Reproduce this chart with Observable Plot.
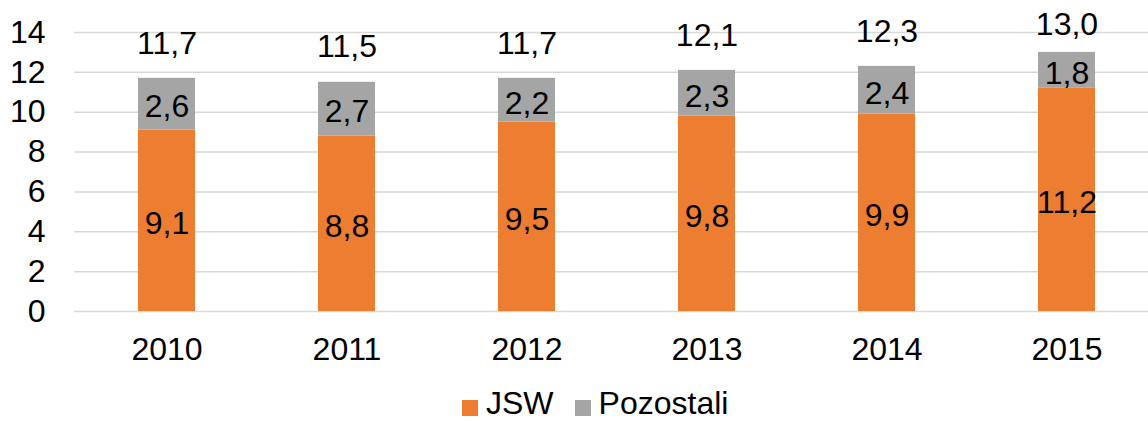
<!DOCTYPE html>
<html>
<head>
<meta charset="utf-8">
<script src="https://cdn.jsdelivr.net/npm/d3@7"></script>
<script src="https://cdn.jsdelivr.net/npm/@observablehq/plot@0.6"></script>
<style>
  body { margin: 0; background: #fff; font-family: "Liberation Sans", Arial, sans-serif; }
  #chart svg { display: block; }
  #legend { display: flex; align-items: flex-start; padding-top: 2px; padding-left: 462px; height: 34px; font-size: 32px; line-height: 32px; color: #000; }
  .item { display: flex; align-items: flex-start; margin-right: 21px; }
  .sw { width: 16px; height: 16px; margin-top: 13px; margin-right: 8px; }
</style>
</head>
<body>
<div id="chart"></div>
<div id="legend"></div>
<script>
const years = ["2010", "2011", "2012", "2013", "2014", "2015"];
const seriesNames = ["JSW", "Pozostali"];
const jsw = [9.1, 8.8, 9.5, 9.8, 9.9, 11.2];
const pozostali = [2.6, 2.7, 2.2, 2.3, 2.4, 1.8];
const totals = [11.7, 11.5, 11.7, 12.1, 12.3, 13.0];
const yTicks = [0, 2, 4, 6, 8, 10, 12, 14];
const colors = ["#ED7D31", "#A5A5A5"];

const fmt = d => d.toFixed(1).replace(".", ",");

const rows = [];
years.forEach((y, i) => {
  rows.push({year: y, series: "JSW", value: jsw[i], mid: jsw[i] / 2});
  rows.push({year: y, series: "Pozostali", value: pozostali[i], mid: jsw[i] + pozostali[i] / 2});
});
const totalRows = years.map((y, i) => ({year: y, total: totals[i], ly: Math.min(totals[i] + 1.76, 14.4)}));

const chart = Plot.plot({
  width: 1148,
  height: 385,
  marginTop: 32,
  marginBottom: 74,
  marginLeft: 74,
  marginRight: 0,
  style: {fontFamily: "'Liberation Sans', Arial, sans-serif", fontSize: "32px", color: "#000", background: "#fff"},
  x: {domain: years, range: [74, 1159], paddingInner: 0.685, paddingOuter: 0.3425, label: null},
  y: {domain: [0, 14], label: null},
  color: {domain: seriesNames, range: colors},
  marks: [
    Plot.gridY(yTicks, {stroke: "#D9D9D9", strokeOpacity: 1, strokeWidth: 1.5}),
    Plot.axisY({ticks: yTicks, tickSize: 0, tickPadding: 29, fontSize: 32, label: null}),
    Plot.axisX({tickSize: 0, tickPadding: 26, fontSize: 32, label: null}),
    Plot.barY(rows, Plot.stackY({x: "year", y: "value", fill: "series"})),
    Plot.text(rows, {x: "year", y: "mid", text: d => fmt(d.value), fontSize: 32, fill: "#000", dy: 3}),
    Plot.text(totalRows, {x: "year", y: "ly", text: d => fmt(d.total), fontSize: 32, fill: "#000"})
  ]
});
document.getElementById("chart").appendChild(chart);

const legend = document.getElementById("legend");
seriesNames.forEach((name, i) => {
  const item = document.createElement("div");
  item.className = "item";
  const sw = document.createElement("div");
  sw.className = "sw";
  sw.style.background = chart.scale("color").apply(name);
  const label = document.createElement("span");
  label.textContent = name;
  item.appendChild(sw);
  item.appendChild(label);
  legend.appendChild(item);
});
</script>
</body>
</html>
